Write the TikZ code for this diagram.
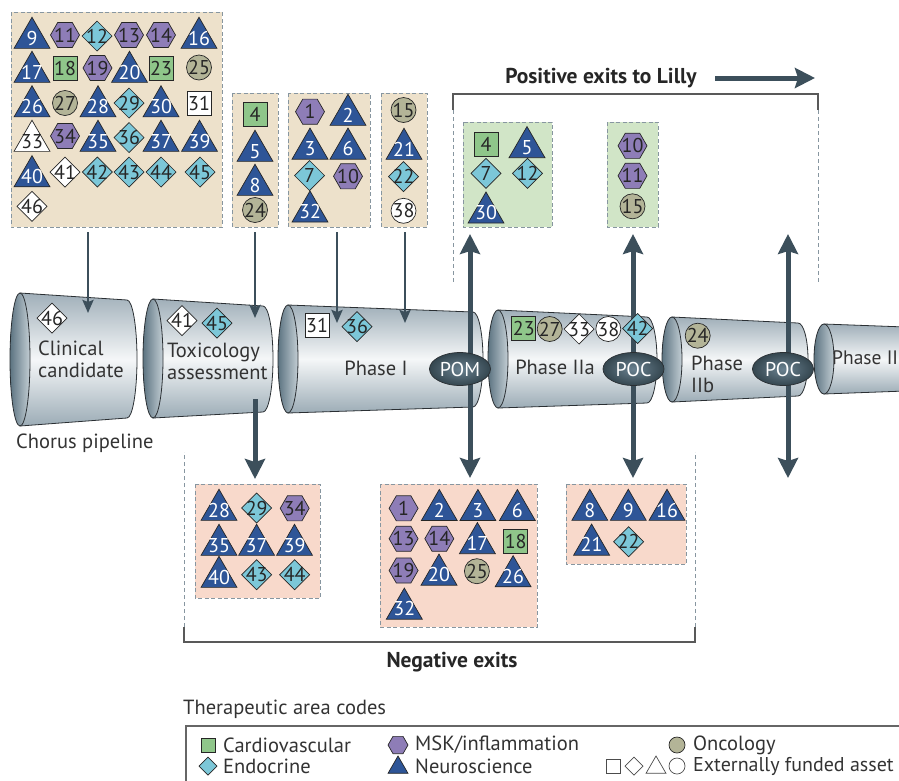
\documentclass[tikz,border=0pt]{standalone}
\usepackage{fontspec}
\setmainfont{PT Sans}
\usetikzlibrary{shapes.geometric,arrows.meta}
\definecolor{slate}{HTML}{3C4F5B}
\definecolor{triblue}{HTML}{2E5597}
\definecolor{hexpurple}{HTML}{8E7DB7}
\definecolor{dcyan}{HTML}{7CC7D8}
\definecolor{sqgreen}{HTML}{8FC68A}
\definecolor{olive}{HTML}{B3B497}
\definecolor{beige}{HTML}{EDE1CB}
\definecolor{lgreen}{HTML}{D1E5C7}
\definecolor{pinkbg}{HTML}{F8D9CB}
\definecolor{dashgray}{HTML}{8796A0}
\definecolor{cyltop}{HTML}{A0AFB9}
\definecolor{cylmid}{HTML}{F5F7F8}
\definecolor{cylbot}{HTML}{9CACB6}
\definecolor{cylline}{HTML}{2A2F33}
\definecolor{facedark}{HTML}{5C7381}
\definecolor{facelight}{HTML}{C3CED4}
\definecolor{ellin}{HTML}{6A8190}
\definecolor{ellout}{HTML}{34464F}
\definecolor{txt}{HTML}{333333}
\newcommand\nm[1]{\makebox[0pt]{\raisebox{-0.35em}[0pt][0pt]{#1}}}
\newcommand\cyl[7]{%
  \shade[top color=cyltop, bottom color=cylbot, middle color=cylmid, draw=cylline, line width=0.8pt]
    (#1,#2-#3) -- (#4,#5-#6) arc[start angle=-90,end angle=90,x radius=#7,y radius=#6] -- (#1,#2+#3) -- cycle;
  \shade[left color=facedark, right color=facelight, draw=cylline, line width=0.8pt]
    (#1,#2) ellipse[x radius=#7, y radius=#3];
}
\tikzset{
  item/.style={draw=black!85, line width=0.7pt, inner sep=0pt, outer sep=0pt, font=\fontsize{20}{20}\selectfont, text=black!85},
  tri/.style={item, regular polygon, regular polygon sides=3, minimum size=41.5pt, fill=triblue, text=white},
  hexa/.style={item, regular polygon, regular polygon sides=6, minimum size=29pt, fill=hexpurple},
  dia/.style={item, diamond, minimum width=30pt, minimum height=30pt, fill=dcyan},
  sq/.style={item, rectangle, minimum size=24pt, fill=sqgreen},
  circ/.style={item, circle, minimum size=25pt, fill=olive},
  wtri/.style={tri, fill=white, text=black!85},
  wdia/.style={dia, fill=white},
  wsq/.style={sq, fill=white},
  wcirc/.style={circ, fill=white},
  panel/.style={draw=dashgray, line width=1pt, dash pattern=on 4pt off 2.5pt},
  bracket/.style={draw=black!65, line width=1.2pt},
  vdash/.style={draw=dashgray, line width=1pt, dash pattern=on 4pt off 3pt},
  thinarrow/.style={draw=slate, line width=2.5pt, -{Stealth[length=13pt,width=11pt,inset=2pt]}},
  thickarrow/.style={draw=slate, line width=5pt, -{Stealth[length=20pt,width=20pt,inset=3pt]}},
  dblarrow/.style={draw=slate, line width=5pt, {Stealth[length=20pt,width=20pt,inset=3pt]}-{Stealth[length=20pt,width=20pt,inset=3pt]}},
  gate/.style={ellipse, minimum width=61pt, minimum height=33pt, inner sep=0pt, inner color=ellin, outer color=ellout, draw=cylline, line width=0.7pt, text=white, font=\fontsize{20}{20}\selectfont},
  lbl/.style={text=txt, font=\fontsize{20.5}{22}\selectfont, inner sep=0pt},
  bold/.style={text=black!85, font=\fontsize{21.5}{22}\selectfont\bfseries, inner sep=0pt},
  legtri/.style={item, regular polygon, regular polygon sides=3, minimum size=23pt, fill=triblue},
  leghex/.style={item, regular polygon, regular polygon sides=6, minimum size=20pt, fill=hexpurple},
  legdia/.style={item, diamond, minimum width=18pt, minimum height=18pt, fill=dcyan},
  legsq/.style={item, rectangle, minimum size=14pt, fill=sqgreen},
  legcirc/.style={item, circle, minimum size=16pt, fill=olive},
}
\begin{document}
\begin{tikzpicture}[x=1pt,y=-1pt]
\useasboundingbox (0,0) rectangle (899,780);
\clip (0,0) rectangle (899,780);

% ---------- panels ----------
\path[panel, fill=beige] (11,12) rectangle (222,227);
\path[panel, fill=beige] (232,93) rectangle (278,227);
\path[panel, fill=beige] (288,93) rectangle (370,227);
\path[panel, fill=beige] (381,93) rectangle (427,227);
\path[panel, fill=lgreen] (463,122) rectangle (552,227);
\path[panel, fill=lgreen] (607,122) rectangle (658,227);
\path[panel, fill=pinkbg] (195,484) rectangle (320,598);
\path[panel, fill=pinkbg] (380,484) rectangle (537,627);
\path[panel, fill=pinkbg] (566,484) rectangle (686,564);

% ---------- brackets ----------
\draw[bracket] (453,110) -- (453,94) -- (818,94) -- (818,110);
\draw[vdash] (453,110) -- (453,283);
\draw[vdash] (818,110) -- (818,283);
\draw[bracket] (184,627) -- (184,642) -- (695,642) -- (695,627);
\draw[vdash] (184,627) -- (184,452);
\draw[vdash] (695,627) -- (695,452);

\node[bold] (postxt) at (601,78) {Positive exits to Lilly};
\coordinate (pas) at (715,78);
\coordinate (pae) at (815,78);
\draw[thickarrow] (pas) -- (pae);
\node[bold] (negtxt) at (452,662) {Negative exits};

% ---------- top-left panel items ----------
\node[tri]  (a9)  at (32,38)   {\nm{9}};
\node[hexa] (a11) at (65,35)   {\nm{11}};
\node[dia]  (a12) at (97,36)   {\nm{12}};
\node[hexa] (a13) at (129,35)  {\nm{13}};
\node[hexa] (a14) at (161,35)  {\nm{14}};
\node[tri]  (a16) at (199,38)  {\nm{16}};
\node[tri]  (a17) at (32,72)   {\nm{17}};
\node[sq]   (a18) at (65,68)   {\nm{18}};
\node[hexa] (a19) at (97.5,68) {\nm{19}};
\node[tri]  (a20) at (129.5,72){\nm{20}};
\node[sq]   (a23) at (161,68)  {\nm{23}};
\node[circ] (a25) at (199,67.5){\nm{25}};
\node[tri]  (a26) at (32,106.5){\nm{26}};
\node[circ] (a27) at (65,103)  {\nm{27}};
\node[tri]  (a28) at (98,106.5){\nm{28}};
\node[dia]  (a29) at (129,103) {\nm{29}};
\node[tri]  (a30) at (161,106.5){\nm{30}};
\node[wsq]  (a31) at (199,103) {\nm{31}};
\node[wtri] (a33) at (32,141)  {\nm{33}};
\node[hexa] (a34) at (65,136)  {\nm{34}};
\node[tri]  (a35) at (98,141)  {\nm{35}};
\node[dia]  (a36) at (129,137.5){\nm{36}};
\node[tri]  (a37) at (161,141) {\nm{37}};
\node[tri]  (a39) at (199.5,141){\nm{39}};
\node[tri]  (a40) at (32,176.4){\nm{40}};
\node[wdia] (a41) at (65,172)  {\nm{41}};
\node[dia]  (a42) at (97.3,172){\nm{42}};
\node[dia]  (a43) at (129,172) {\nm{43}};
\node[dia]  (a44) at (161,172) {\nm{44}};
\node[dia]  (a45) at (200,172) {\nm{45}};
\node[wdia] (a46) at (32,206.3){\nm{46}};

% panel 2
\node[sq]   (b4)  at (255,114) {\nm{4}};
\node[tri]  (b5)  at (255,151) {\nm{5}};
\node[tri]  (b8)  at (255,185) {\nm{8}};
\node[circ] (b24) at (255,210) {\nm{24}};
% panel 3
\node[hexa] (c1)  at (310,111.7) {\nm{1}};
\node[tri]  (c2)  at (348,115)   {\nm{2}};
\node[tri]  (c3)  at (310,148.8) {\nm{3}};
\node[tri]  (c6)  at (348,148.8) {\nm{6}};
\node[dia]  (c7)  at (309.5,175.5) {\nm{7}};
\node[hexa] (c10) at (348,176.3) {\nm{10}};
\node[tri]  (c32) at (310,211.7) {\nm{32}};
% panel 4
\node[circ] (d15) at (403.5,110) {\nm{15}};
\node[tri]  (d21) at (404,149)   {\nm{21}};
\node[dia]  (d22) at (403.5,176.7) {\nm{22}};
\node[wcirc](d38) at (403.5,210.8) {\nm{38}};
% green panels
\node[sq]   (g4)  at (486,144.2) {\nm{4}};
\node[tri]  (g5)  at (527,147.3) {\nm{5}};
\node[dia]  (g7)  at (486,173.3) {\nm{7}};
\node[dia]  (g12) at (527.5,173.3) {\nm{12}};
\node[tri]  (g30) at (486,212.7) {\nm{30}};
\node[hexa] (h10) at (632.5,145.8) {\nm{10}};
\node[hexa] (h11) at (632.5,175.8) {\nm{11}};
\node[circ] (h15) at (632.5,206.3) {\nm{15}};
% pink panel 1
\node[tri]  (n28) at (219,510) {\nm{28}};
\node[dia]  (n29) at (256.7,508) {\nm{29}};
\node[hexa] (n34) at (294.7,508.3) {\nm{34}};
\node[tri]  (n35) at (219,545) {\nm{35}};
\node[tri]  (n37) at (256.6,545) {\nm{37}};
\node[tri]  (n39) at (294.5,545) {\nm{39}};
\node[tri]  (n40) at (219,577) {\nm{40}};
\node[dia]  (n43) at (256.7,574.7) {\nm{43}};
\node[dia]  (n44) at (294.7,574.7) {\nm{44}};
% pink panel 2
\node[hexa] (m1)  at (403.6,508.3) {\nm{1}};
\node[tri]  (m2)  at (439.3,510.2) {\nm{2}};
\node[tri]  (m3)  at (477.9,510.2) {\nm{3}};
\node[tri]  (m6)  at (517.4,510.2) {\nm{6}};
\node[hexa] (m13) at (403.6,538.7) {\nm{13}};
\node[hexa] (m14) at (439.3,538.7) {\nm{14}};
\node[tri]  (m17) at (477.4,543.3) {\nm{17}};
\node[sq]   (m18) at (515.7,541.7) {\nm{18}};
\node[hexa] (m19) at (403.6,570.5) {\nm{19}};
\node[tri]  (m20) at (439,574.8)   {\nm{20}};
\node[circ] (m25) at (476.9,571.2) {\nm{25}};
\node[tri]  (m26) at (513.1,576.4) {\nm{26}};
\node[tri]  (m32) at (404.3,608.8) {\nm{32}};
% pink panel 3
\node[tri]  (k8)  at (589.8,510) {\nm{8}};
\node[tri]  (k9)  at (628.3,510) {\nm{9}};
\node[tri]  (k16) at (667,510)   {\nm{16}};
\node[tri]  (k21) at (591.6,544.8) {\nm{21}};
\node[dia]  (k22) at (628.6,541.7) {\nm{22}};

% ---------- pipeline ----------
\cyl{20}{359.5}{66.5}{127}{359}{59}{10}
\cyl{153}{358.5}{59.5}{263}{359}{53}{10}
\cyl{288}{359}{54}{473}{359.5}{47.5}{10}
\cyl{498}{359}{49}{647}{360}{43}{10}
\cyl{672}{359.5}{42.5}{798}{359.5}{36.5}{10}
\cyl{824}{359}{35}{960}{359}{30}{10}

% arrows into pipeline
\coordinate (a1s) at (88,232);  \coordinate (a1e) at (88,313);
\coordinate (a2s) at (255,232); \coordinate (a2e) at (255,318);
\coordinate (a3s) at (337,232); \coordinate (a3e) at (337,323);
\coordinate (a4s) at (405,232); \coordinate (a4e) at (405,323);
\draw[thinarrow] (a1s) -- (a1e);
\draw[thinarrow] (a2s) -- (a2e);
\draw[thinarrow] (a3s) -- (a3e);
\draw[thinarrow] (a4s) -- (a4e);

\coordinate (txs) at (255,399); \coordinate (txe) at (255,479);
\draw[thickarrow] (txs) -- (txe);
\coordinate (d1t) at (470,234); \coordinate (d1b) at (470,478);
\coordinate (d2t) at (633,234); \coordinate (d2b) at (633,478);
\coordinate (d3t) at (788,234); \coordinate (d3b) at (788,478);
\draw[dblarrow] (d1t) -- (d1b);
\draw[dblarrow] (d2t) -- (d2b);
\draw[dblarrow] (d3t) -- (d3b);

\node[gate] (pom)  at (460,369)   {POM};
\node[gate] (poc1) at (633.5,369) {POC};
\node[gate] (poc2) at (783,369)   {POC};

% items on pipeline
\node[wdia] (y46) at (52,318)    {\nm{46}};
\node[wdia] (y41) at (182,320.5) {\nm{41}};
\node[dia]  (y45) at (217,323)   {\nm{45}};
\node[wsq]  (y31) at (317,325)   {\nm{31}};
\node[dia]  (y36) at (357,326.7) {\nm{36}};
\node[sq]   (y23) at (523.8,328.7) {\nm{23}};
\node[circ] (y27) at (549.7,329) {\nm{27}};
\node[wdia] (y33) at (579,329)   {\nm{33}};
\node[wcirc](y38) at (608.3,329) {\nm{38}};
\node[dia]  (y42) at (637.7,328.5) {\nm{42}};
\node[circ] (y24) at (697.7,335.7) {\nm{24}};

% labels
\node[lbl, anchor=west, align=left] (tcc) at (38,359) {Clinical\\candidate};
\node[lbl, anchor=west, align=left] (ttx) at (167,361) {Toxicology\\assessment};
\node[lbl] (tp1) at (376,368) {Phase I};
\node[lbl] (tp2a) at (555,367) {Phase IIa};
\node[lbl, anchor=west, align=left] (tp2b) at (691,374) {Phase\\IIb};
\node[lbl, anchor=west, font=\fontsize{19.5}{22}\selectfont] (tp2) at (832,358) {Phase II};
\node[lbl, anchor=west] (tch) at (16,443) {Chorus pipeline};

% ---------- legend ----------
\node[lbl, anchor=west] (legt) at (183,709) {Therapeutic area codes};
\draw[draw=black!60, line width=1.2pt] (186,800) -- (186,726) -- (910,726);
\node[legsq]   (l1) at (208,745) {};
\node[lbl, anchor=west] (l1t) at (223,745) {Cardiovascular};
\node[legdia]  (l2) at (208,766) {};
\node[lbl, anchor=west] (l2t) at (223,766) {Endocrine};
\node[leghex]  (l3) at (398,745) {};
\node[lbl, anchor=west] (l3t) at (415,745) {MSK/inflammation};
\node[legtri]  (l4) at (398,767.5) {};
\node[lbl, anchor=west] (l4t) at (415,766) {Neuroscience};
\node[legcirc] (l5) at (677,745) {};
\node[lbl, anchor=west] (l5t) at (693,745) {Oncology};
\node[legsq, fill=white, draw=black!70]   (l6a) at (613,766) {};
\node[legdia, fill=white, draw=black!70]  (l6b) at (634,766) {};
\node[legtri, fill=white, draw=black!70]  (l6c) at (656,767.5) {};
\node[legcirc, fill=white, draw=black!70] (l6d) at (677,766) {};
\node[lbl, anchor=west, font=\fontsize{20}{22}\selectfont] (l6t) at (693,766) {Externally funded asset};
\end{tikzpicture}
\end{document}
